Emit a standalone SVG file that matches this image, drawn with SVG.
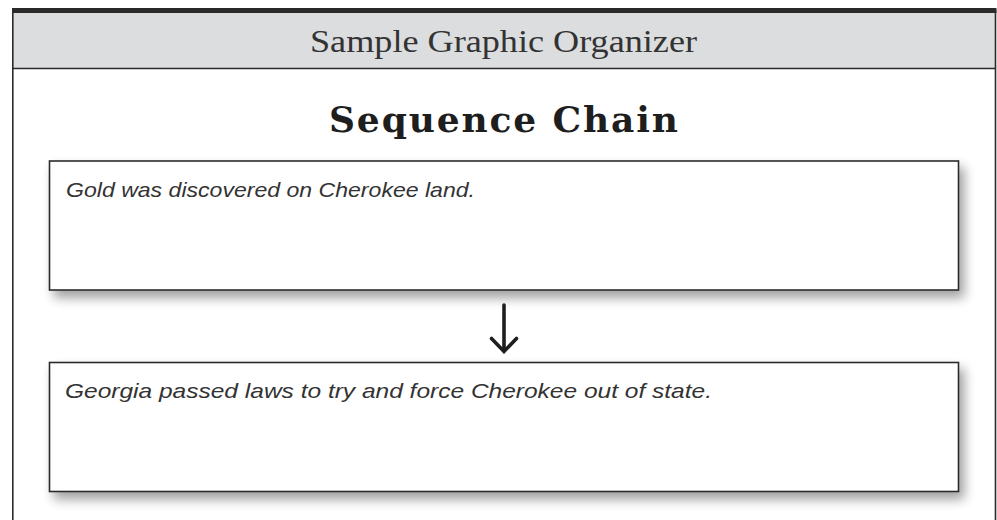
<svg xmlns="http://www.w3.org/2000/svg" width="997" height="520" viewBox="0 0 997 520">
<style>
.hdr{font-family:"Liberation Serif","DejaVu Serif",serif;font-size:32.5px;fill:#333333;}
.ttl{font-family:"DejaVu Serif","Liberation Serif",serif;font-weight:bold;font-size:36px;fill:#1e1e1e;}
.box{fill:#ffffff;stroke:#2a2a2a;stroke-width:1.6;}
.lbl{font-family:"Liberation Sans","DejaVu Sans",sans-serif;font-style:italic;font-size:21px;fill:#333333;}
.frame{stroke:#2a2a2a;stroke-width:1.6;fill:none;}
</style>
<defs>
<filter id="sh" x="-5%" y="-20%" width="115%" height="150%">
<feGaussianBlur in="SourceAlpha" stdDeviation="6"/>
<feOffset dx="5" dy="7" result="b"/>
<feComponentTransfer><feFuncA type="linear" slope="0.38"/></feComponentTransfer>
<feMerge><feMergeNode/><feMergeNode in="SourceGraphic"/></feMerge>
</filter>
</defs>
<rect x="0" y="0" width="997" height="520" fill="#ffffff"/>
<g id="frame">
<rect x="12.5" y="12" width="983" height="56.5" fill="#dcdddf"/>
<rect x="12" y="8" width="984.5" height="5" fill="#2a2a2a"/>
<line class="frame" x1="12.8" y1="10" x2="12.8" y2="520"/>
<line class="frame" x1="995.5" y1="10" x2="995.5" y2="520"/>
<line class="frame" x1="12" y1="68.5" x2="996" y2="68.5"/>
<text class="hdr" x="503.5" y="51.5" text-anchor="middle" textLength="387" lengthAdjust="spacingAndGlyphs">Sample Graphic Organizer</text>
<text class="ttl" x="503.5" y="131.5" text-anchor="middle" textLength="349" lengthAdjust="spacing">Sequence Chain</text>
</g>
<g id="node1">
<rect class="box" x="49.5" y="161" width="909" height="129" filter="url(#sh)"/>
<text class="lbl" x="66" y="196.5" textLength="409" lengthAdjust="spacingAndGlyphs">Gold was discovered on Cherokee land.</text>
</g>
<g id="node2">
<rect class="box" x="49.5" y="362.5" width="909" height="129" filter="url(#sh)"/>
<text class="lbl" x="65" y="397.5" textLength="647" lengthAdjust="spacingAndGlyphs">Georgia passed laws to try and force Cherokee out of state.</text>
</g>
<g id="connectors">
<line x1="504" y1="305" x2="504" y2="351" stroke="#1e1e1e" stroke-width="3.6" stroke-linecap="round"/>
<polyline points="491.5,338.5 504,351.5 516.5,338.5" fill="none" stroke="#1e1e1e" stroke-width="3.6" stroke-linecap="round" stroke-linejoin="miter"/>
</g>
</svg>
